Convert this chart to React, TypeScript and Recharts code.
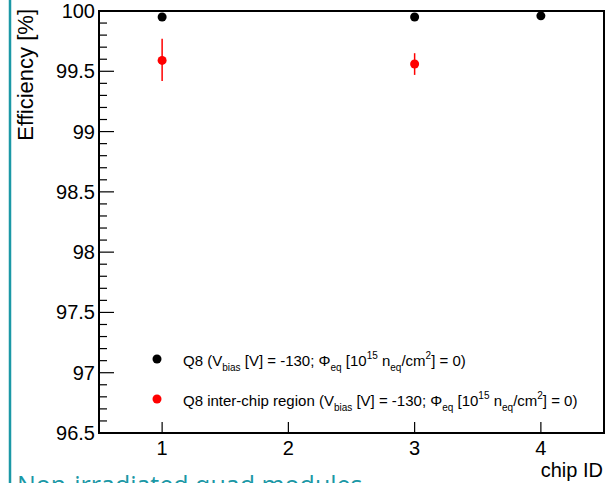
import React from "react";
import {
  ScatterChart,
  Scatter,
  XAxis,
  YAxis,
  ErrorBar,
  ReferenceArea,
} from "recharts";

const chipIds = [1, 2, 3, 4];
const yMajorTicks = [96.5, 97, 97.5, 98, 98.5, 99, 99.5, 100];

// Q8 full chips
const q8Chip = [1, 3, 4];
const q8Eff = [99.95, 99.95, 99.96];

// Q8 inter-chip region, error = [down, up]
const interChip = [1, 3];
const interEff = [99.59, 99.56];
const interErr = [
  [0.17, 0.18],
  [0.09, 0.09],
];

const q8Data = q8Chip.map((c, i) => ({ x: c, y: q8Eff[i] }));
const interData = interChip.map((c, i) => ({ x: c, y: interEff[i], err: interErr[i] }));

const yTicks: number[] = [];
for (let i = 0; i <= 35; i++) yTicks.push(Math.round((96.5 + i * 0.1) * 10) / 10);

const FONT = "'Liberation Sans', Arial, Helvetica, sans-serif";

const YTick = (props: any) => {
  const { x, y, payload } = props;
  const v = payload.value;
  const major = yMajorTicks.includes(v);
  return (
    <g>
      <line x1={x} x2={x + (major ? 15 : 8)} y1={y} y2={y} stroke="#000" strokeWidth={1.2} />
      {major && (
        <text x={x - 4} y={y + 7} textAnchor="end" fontSize={20} fontFamily={FONT} fill="#000">
          {v}
        </text>
      )}
    </g>
  );
};

const XTick = (props: any) => {
  const { x, y, payload } = props;
  return (
    <g>
      <line x1={x} x2={x} y1={y} y2={y - 11} stroke="#000" strokeWidth={1.2} />
      <text x={x} y={y + 22} textAnchor="middle" fontSize={20} fontFamily={FONT} fill="#000">
        {payload.value}
      </text>
    </g>
  );
};

const Dot = (color: string) => (props: any) => (
  <circle cx={props.cx} cy={props.cy} r={4.5} fill={color} />
);

const sub = { fontSize: 10, verticalAlign: "-5px" } as const;
const sup = { fontSize: 10, verticalAlign: "7px" } as const;

export default function App() {
  return (
    <div style={{ position: "absolute", left: 0, top: 0, width: 607, height: 483, background: "#fff", overflow: "hidden" }}>
      <ScatterChart width={607} height={483} margin={{ top: 11, right: 3, bottom: 0, left: 0 }}>
        <XAxis
          dataKey="x"
          type="number"
          domain={[0.5, 4.5]}
          ticks={chipIds}
          tick={<XTick />}
          tickSize={0}
          tickMargin={0}
          height={50}
          axisLine={{ stroke: "#000", strokeWidth: 2 }}
          tickLine={false}
        />
        <YAxis
          dataKey="y"
          type="number"
          domain={[96.5, 100]}
          ticks={yTicks}
          interval={0}
          tick={<YTick />}
          tickSize={0}
          tickMargin={0}
          width={99}
          axisLine={{ stroke: "#000", strokeWidth: 2 }}
          tickLine={false}
        />
        <ReferenceArea x1={0.5} x2={4.5} y1={96.5} y2={100} fill="none" stroke="#000" strokeWidth={2} strokeOpacity={1} ifOverflow="visible" />
        <Scatter data={q8Data} fill="#000" shape={Dot("#000")} isAnimationActive={false} />
        <Scatter data={interData} fill="#f00" shape={Dot("#f00")} isAnimationActive={false}>
          <ErrorBar dataKey="err" direction="y" width={0} stroke="#f00" strokeWidth={1.5} />
        </Scatter>
      </ScatterChart>

      <svg width={607} height={483} style={{ position: "absolute", left: 0, top: 0, pointerEvents: "none" }}>
        <line x1={10} x2={10} y1={0} y2={483} stroke="#1b98a6" strokeWidth={2.5} />
        <text transform="translate(33,9) rotate(-90)" textAnchor="end" fontSize={22} fontFamily={FONT} fill="#000">
          Efficiency [%]
        </text>
        <text x={603} y={477} textAnchor="end" fontSize={20} fontFamily={FONT} fill="#000">
          chip ID
        </text>
        <text x={17} y={494} fontSize={25} fontFamily="'Open Sans', sans-serif" fill="#1b98a6">
          Non-irradiated quad modules
        </text>
        <circle cx={157} cy={359} r={4.5} fill="#000" />
        <circle cx={157} cy={399} r={4.5} fill="#f00" />
      </svg>

      <div style={{ position: "absolute", left: 183, top: 346, fontFamily: FONT, fontSize: 15, whiteSpace: "nowrap", lineHeight: "20px" }}>
        Q8 (V<span style={sub}>bias</span> [V] = -130; Φ<span style={sub}>eq</span> [10<span style={sup}>15</span> n<span style={sub}>eq</span>/cm<span style={sup}>2</span>] = 0)
      </div>
      <div style={{ position: "absolute", left: 183, top: 386, fontFamily: FONT, fontSize: 15, whiteSpace: "nowrap", lineHeight: "20px" }}>
        Q8 inter-chip region (V<span style={sub}>bias</span> [V] = -130; Φ<span style={sub}>eq</span> [10<span style={sup}>15</span> n<span style={sub}>eq</span>/cm<span style={sup}>2</span>] = 0)
      </div>
    </div>
  );
}
